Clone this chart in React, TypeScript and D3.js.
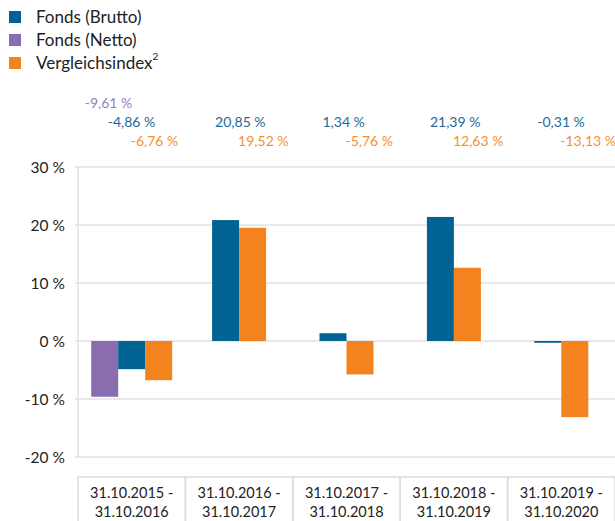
import React from "react";
import * as d3 from "d3";

// data
const periodStart = ["31.10.2015 -", "31.10.2016 -", "31.10.2017 -", "31.10.2018 -", "31.10.2019 -"];
const periodEnd = ["31.10.2016", "31.10.2017", "31.10.2018", "31.10.2019", "31.10.2020"];
const fondsNetto: (number | null)[] = [-9.61, null, null, null, null];
const fondsBrutto: (number | null)[] = [-4.86, 20.85, 1.34, 21.39, -0.31];
const vergleichsindex: (number | null)[] = [-6.76, 19.52, -5.76, 12.63, -13.13];
const yTicks = [-20, -10, 0, 10, 20, 30];

const series = [
  { key: "netto", name: "Fonds (Netto)", values: fondsNetto, color: "#8a6daf", label: "#9a80c0" },
  { key: "brutto", name: "Fonds (Brutto)", values: fondsBrutto, color: "#006394", label: "#1d6a99" },
  { key: "index", name: "Vergleichsindex", values: vergleichsindex, color: "#f4821f", label: "#f39035" },
];
const legendOrder = ["brutto", "netto", "index"];

const W = 615;
const H = 521;
const FONT = "Lato, 'Open Sans', sans-serif";

// german decimal comma, plain hyphen as minus sign
const fmt = (v: number) => v.toFixed(2).replace(".", ",") + " %";

export default function App() {
  const x = d3.scaleBand<string>().domain(periodEnd).range([78, W]).padding(0);
  const y = d3.scaleLinear().domain([-20, 30]).range([457, 167]);
  const barW = 27;
  const labelStep = 23;
  const labelRowY: Record<string, number> = { netto: 103, brutto: 122, index: 141 };

  return (
    <svg
      width={W}
      height={H}
      style={{ position: "absolute", left: 0, top: 0, display: "block" }}
      fontFamily={FONT}
    >
      {/* legend */}
      {legendOrder.map((k, i) => {
        const s = series.find((d) => d.key === k)!;
        const cy = 17 + i * 23;
        return (
          <g key={k}>
            <rect x={9} y={cy - 6} width={12} height={12} fill={s.color} />
            <text x={36} y={cy + 6} fontSize={17} fill="#222">
              {s.name}
              {k === "index" && (
                <tspan fontSize={10} dy={-9}>
                  2
                </tspan>
              )}
            </text>
          </g>
        );
      })}

      {/* grid */}
      {yTicks.map((t) => (
        <g key={t}>
          <line x1={75} x2={W} y1={y(t)} y2={y(t)} stroke="#e2e2e2" strokeWidth={1.5} />
          <text x={65} y={y(t) + 5.5} textAnchor="end" fontSize={15.5} fill="#222">
            {t} %
          </text>
        </g>
      ))}
      <line x1={78} x2={78} y1={y(30)} y2={y(-20)} stroke="#e2e2e2" strokeWidth={1.5} />

      {/* bars + value labels */}
      {periodEnd.map((c, ci) => {
        const present = series.filter((s) => s.values[ci] !== null);
        const n = present.length;
        const center = x(c)! + x.bandwidth() / 2;
        return (
          <g key={c}>
            {present.map((s, j) => {
              const v = s.values[ci] as number;
              const bx = center + (j - n / 2) * barW;
              return (
                <rect
                  key={s.key}
                  x={bx}
                  y={Math.min(y(v), y(0))}
                  width={barW}
                  height={Math.abs(y(v) - y(0))}
                  fill={s.color}
                />
              );
            })}
            {present.map((s, j) => {
              const v = s.values[ci] as number;
              return (
                <text
                  key={s.key + "-l"}
                  x={center + (j - (n - 1)) * labelStep - 1}
                  y={labelRowY[s.key] + 5}
                  fontSize={14}
                  fill={s.label}
                >
                  {fmt(v)}
                </text>
              );
            })}
          </g>
        );
      })}

      {/* period boxes */}
      {periodEnd.map((c, ci) => {
        const bx = x(c)!;
        const center = bx + x.bandwidth() / 2;
        return (
          <g key={c + "-box"}>
            <rect
              x={bx}
              y={477}
              width={x.bandwidth()}
              height={60}
              fill="none"
              stroke="#dcdcdc"
              strokeWidth={1.5}
            />
            <text x={center} y={498} textAnchor="middle" fontSize={14.5} fill="#222">
              {periodStart[ci]}
            </text>
            <text x={center} y={517} textAnchor="middle" fontSize={14.5} fill="#222">
              {c}
            </text>
          </g>
        );
      })}
    </svg>
  );
}
